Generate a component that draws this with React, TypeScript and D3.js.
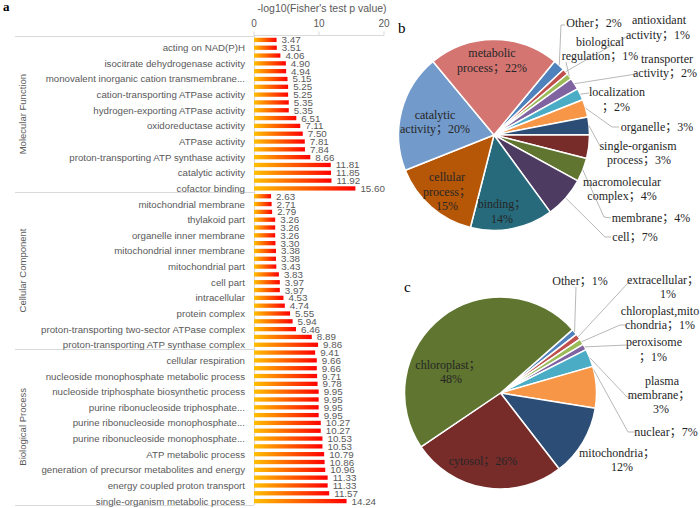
import React from "react";
import * as d3 from "d3";

// ---------- Bar chart data (a) ----------
const groupNames = ["Molecular Function", "Cellular Component", "Biological Process"];
const mfValues = [3.47, 3.51, 4.06, 4.9, 4.94, 5.15, 5.25, 5.25, 5.35, 5.35, 6.51, 7.11, 7.5, 7.81, 7.84, 8.66, 11.81, 11.85, 11.92, 15.6];
const mfLabels = ["", "acting on NAD(P)H", "", "isocitrate dehydrogenase activity", "", "monovalent inorganic cation transmembrane...", "", "cation-transporting ATPase activity", "", "hydrogen-exporting ATPase activity", "", "oxidoreductase activity", "", "ATPase activity", "", "proton-transporting ATP synthase activity", "", "catalytic activity", "", "cofactor binding"];
const ccValues = [2.63, 2.71, 2.79, 3.26, 3.26, 3.26, 3.3, 3.38, 3.38, 3.43, 3.83, 3.97, 3.97, 4.53, 4.74, 5.55, 5.94, 6.46, 8.89, 9.86];
const ccLabels = ["", "mitochondrial membrane", "", "thylakoid part", "", "organelle inner membrane", "", "mitochondrial inner membrane", "", "mitochondrial part", "", "cell part", "", "intracellular", "", "protein complex", "", "proton-transporting two-sector ATPase complex", "", "proton-transporting ATP synthase complex"];
const bpValues = [9.41, 9.66, 9.66, 9.71, 9.78, 9.95, 9.95, 9.95, 9.95, 10.27, 10.27, 10.53, 10.53, 10.79, 10.86, 10.96, 11.33, 11.33, 11.57, 14.24];
const bpLabels = ["", "cellular respiration", "", "nucleoside monophosphate metabolic process", "", "nucleoside triphosphate biosynthetic process", "", "purine ribonucleoside triphosphate...", "", "purine ribonucleoside monophosphate...", "", "purine ribonucleoside monophosphate...", "", "ATP metabolic process", "", "generation of precursor metabolites and energy", "", "energy coupled proton transport", "", "single-organism metabolic process"];
const xTicks = [0, 10, 20];
const xTitle = "-log10(Fisher's test p value)";

// ---------- Pie b data ----------
const goNames = ["Other", "antioxidant activity", "biological regulation", "transporter activity", "localization", "organelle", "single-organism process", "macromolecular complex", "membrane", "cell", "binding", "cellular process", "catalytic activity", "metabolic process"];
const goPercents = [2, 1, 1, 2, 2, 3, 3, 4, 4, 7, 14, 15, 20, 22];

// ---------- Pie c data ----------
const locNames = ["Other", "extracellular", "chloroplast,mitochondria", "peroxisome", "plasma membrane", "nuclear", "mitochondria", "cytosol", "chloroplast"];
const locPercents = [1, 1, 1, 1, 3, 7, 12, 26, 48];

const sliceColors = ["#4F81BD", "#C0504D", "#9BBB59", "#8064A2", "#4BACC6", "#F79646", "#2C4D75", "#772C2A", "#5F7530", "#4D3B62", "#276A7C", "#B65708", "#729ACA", "#D47572"];

// ---------- Label layouts (text lines + placement) ----------
type LabelLayout = { lines: string[]; x: number[]; y: number; lh: number; leader?: [number, number][]; frac?: number };

const goLayout: LabelLayout[] = [
  { lines: ["Other；2%"], x: [594], y: 23, lh: 14, leader: [[561, 25], [565, 25]] },
  { lines: ["antioxidant", "activity；1%"], x: [659, 658], y: 20, lh: 15, leader: [[628, 36]] },
  { lines: ["biological", "regulation；1%"], x: [600, 600], y: 42, lh: 14, leader: [[566, 62]] },
  { lines: ["transporter", "activity；2%"], x: [667, 665], y: 59, lh: 14, leader: [[636, 74]] },
  { lines: ["localization", "；2%"], x: [617, 616], y: 92, lh: 15, leader: [[589, 93]] },
  { lines: ["organelle；3%"], x: [657], y: 127, lh: 14, leader: [[612, 127], [619, 127]] },
  { lines: ["single-organism", "process；3%"], x: [638, 639], y: 146, lh: 14, leader: [[600, 146]] },
  { lines: ["macromolecular", "complex；4%"], x: [622, 622], y: 182, lh: 14 },
  { lines: ["membrane；4%"], x: [651], y: 218, lh: 14, leader: [[604, 217], [611, 218]] },
  { lines: ["cell；7%"], x: [635], y: 237, lh: 14, leader: [[605, 237], [611, 237]] },
  { lines: ["binding；", "14%"], x: [502, 502], y: 204, lh: 15 },
  { lines: ["cellular", "process；", "15%"], x: [447, 447, 447], y: 177, lh: 14.5 },
  { lines: ["catalytic", "activity；20%"], x: [435, 435], y: 115, lh: 14 },
  { lines: ["metabolic", "process；22%"], x: [492, 492], y: 53, lh: 15 },
];

const locLayout: LabelLayout[] = [
  { lines: ["Other；1%"], x: [580], y: 281, lh: 14, leader: [[576, 287]] },
  { lines: ["extracellular；", "1%"], x: [663, 668], y: 280, lh: 14, leader: [[628, 283], [632, 281]] },
  { lines: ["chloroplast,mito", "chondria；1%"], x: [660, 660], y: 311, lh: 13.5, leader: [[620, 325], [626, 325]] },
  { lines: ["peroxisome", "；1%"], x: [654, 653], y: 342, lh: 15, leader: [[627, 345]] },
  { lines: ["plasma", "membrane；", "3%"], x: [662, 659, 661], y: 381, lh: 14, leader: [[627, 397], [632, 397]] },
  { lines: ["nuclear；7%"], x: [666], y: 432, lh: 14, leader: [[628, 432], [635, 432]], frac: 0.08 },
  { lines: ["mitochondria；", "12%"], x: [617, 622], y: 453, lh: 14 },
  { lines: ["cytosol；26%"], x: [483], y: 461, lh: 14 },
  { lines: ["chloroplast；", "48%"], x: [448, 451], y: 365, lh: 14 },
];

const SANS = "'Liberation Sans', Arial, sans-serif";
const SERIF = "'Liberation Serif', 'Times New Roman', 'Noto Sans CJK SC', serif";
const GREY = "#595959";
const LINE = "#D9D9D9";

function BarPanel() {
  const values = [...mfValues, ...ccValues, ...bpValues];
  const labels = [...mfLabels, ...ccLabels, ...bpLabels];
  const n = values.length;
  const x = d3.scaleLinear().domain([0, 20]).range([254, 384]);
  const y = d3
    .scaleBand<number>()
    .domain(d3.range(n))
    .range([36, 505])
    .paddingInner(0.45)
    .paddingOuter(0.225);
  const bw = y.bandwidth();
  const edge = d3.scaleLinear().domain([0, n]).range([36, 505]);
  const perGroup = n / groupNames.length;

  return (
    <g>
      <defs>
        <linearGradient id="barGrad" x1="0" x2="1" y1="0" y2="0">
          <stop offset="0" stopColor="#FFC000" />
          <stop offset="1" stopColor="#FF0000" />
        </linearGradient>
      </defs>
      <text x={322} y={8} fontFamily={SANS} fontSize={10.5} fill={GREY} textAnchor="middle" dominantBaseline="central">
        {xTitle}
      </text>
      <line x1={x(0)} x2={x(20)} y1={35.5} y2={35.5} stroke={LINE} />
      {xTicks.map((t) => (
        <g key={t}>
          <line x1={x(t)} x2={x(t)} y1={31.5} y2={35.5} stroke={LINE} />
          <text x={x(t)} y={23} fontFamily={SANS} fontSize={10} fill={GREY} textAnchor="middle" dominantBaseline="central">
            {t}
          </text>
        </g>
      ))}
      <line x1={x(0) + 0.5} x2={x(0) + 0.5} y1={36} y2={505} stroke={LINE} />
      {d3.range(groupNames.length + 1).map((g) => (
        <line key={g} x1={15} x2={x(0)} y1={Math.round(edge(g * perGroup)) + 0.5} y2={Math.round(edge(g * perGroup)) + 0.5} stroke={LINE} />
      ))}
      {groupNames.map((name, g) => {
        const cy = (edge(g * perGroup) + edge((g + 1) * perGroup)) / 2;
        return (
          <text key={name} transform={`translate(22,${cy}) rotate(-90)`} fontFamily={SANS} fontSize={9.5} fill={GREY} textAnchor="middle" dominantBaseline="central">
            {name}
          </text>
        );
      })}
      {values.map((v, i) => (
        <g key={i}>
          <rect x={x(0)} y={y(i)} width={x(v) - x(0)} height={bw} fill="url(#barGrad)" />
          <text x={x(v) + 5} y={(y(i) as number) + bw / 2} fontFamily={SANS} fontSize={9.8} fill={GREY} dominantBaseline="central">
            {v.toFixed(2)}
          </text>
          {labels[i] ? (
            <text x={245} y={(y(i) as number) + bw / 2} fontFamily={SANS} fontSize={9.7} fill={GREY} textAnchor="end" dominantBaseline="central">
              {labels[i]}
            </text>
          ) : null}
        </g>
      ))}
      <text x={3} y={11} fontFamily={SERIF} fontWeight="bold" fontSize={13} fill="#000">
        a
      </text>
    </g>
  );
}

function PiePanel({ values, layout, cx, cy, r, start, tag, tagX, tagY }: { values: number[]; layout: LabelLayout[]; cx: number; cy: number; r: number; start: number; tag: string; tagX: number; tagY: number }) {
  const a0 = (start * Math.PI) / 180;
  const arcs = d3.pie<number>().sort(null).value((d) => d).startAngle(a0).endAngle(a0 + 2 * Math.PI)(values);
  const arc = d3.arc<d3.PieArcDatum<number>>().innerRadius(0).outerRadius(r);
  return (
    <g>
      <g transform={`translate(${cx},${cy})`}>
        {arcs.map((a, i) => (
          <path key={i} d={arc(a) || ""} fill={sliceColors[i]} stroke="#fff" strokeWidth={1.5} strokeLinejoin="round" />
        ))}
      </g>
      {arcs.map((a, i) => {
        const L = layout[i];
        if (!L || !L.leader) return null;
        const f = L.frac ?? 0.5;
        const ang = a.startAngle + (a.endAngle - a.startAngle) * f;
        const sx = cx + r * Math.sin(ang);
        const sy = cy - r * Math.cos(ang);
        const pts: [number, number][] = [[sx, sy], ...L.leader];
        return <path key={"l" + i} d={d3.line()(pts) || ""} fill="none" stroke="#A6A6A6" strokeWidth={0.8} />;
      })}
      {layout.map((L, i) => (
        <g key={"t" + i}>
          {L.lines.map((s, j) => (
            <text key={j} x={L.x[j]} y={L.y + j * L.lh} fontFamily={SERIF} fontSize={12} fill="#262626" textAnchor="middle" dominantBaseline="central">
              {s}
            </text>
          ))}
        </g>
      ))}
      <text x={tagX} y={tagY} fontFamily={SERIF} fontSize={15} fill="#000">
        {tag}
      </text>
    </g>
  );
}

export default function App() {
  return (
    <svg width={700} height={508} viewBox="0 0 700 508" style={{ position: "absolute", left: 0, top: 0, background: "#fff" }}>
      <rect width={700} height={508} fill="#fff" />
      <BarPanel />
      <PiePanel values={goPercents} layout={goLayout} cx={494} cy={135} r={95.5} start={39.5} tag="b" tagX={398} tagY={33} />
      <PiePanel values={locPercents} layout={locLayout} cx={500.5} cy={393} r={96} start={48.7} tag="c" tagX={404} tagY={292} />
    </svg>
  );
}
